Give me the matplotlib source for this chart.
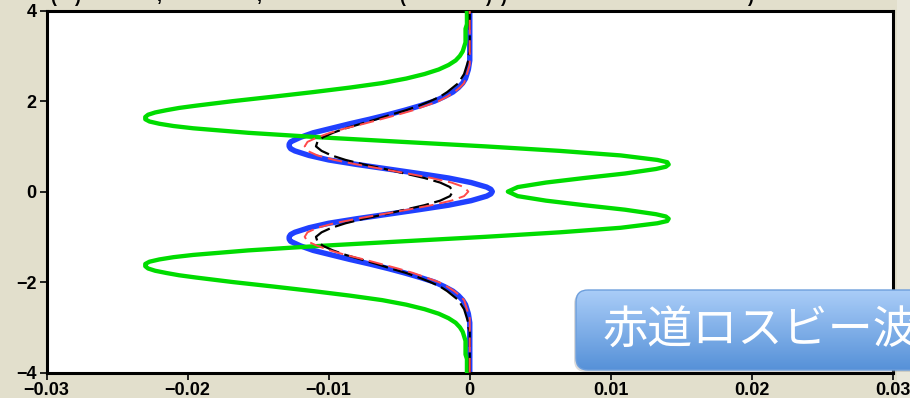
import numpy as np
import matplotlib
matplotlib.use("Agg")
import matplotlib.pyplot as plt
from matplotlib.patches import FancyBboxPatch, Rectangle

plt.rcParams['font.family'] = ['Liberation Sans', 'DejaVu Sans']

# meridional coordinate (nondimensional), samples every 0.1
y = np.linspace(-4, 4, 81)

# curves, y = -4.0 ... 4.0
green = [-0.0002, -0.0002, -0.0002, -0.0002, -0.0003, -0.0003, -0.0003, -0.0003, -0.0004, -0.0005,
         -0.0007, -0.0010, -0.0015, -0.0022, -0.0032, -0.0045, -0.0062, -0.0085, -0.0111, -0.0139,
         -0.0168, -0.0194, -0.0215, -0.0228, -0.0230, -0.0220, -0.0196, -0.0157, -0.0106, -0.0048,
         0.0011, 0.0064, 0.0107, 0.0133, 0.0141, 0.0132, 0.0110, 0.0081, 0.0054, 0.0034,
         0.0027,
         0.0034, 0.0054, 0.0081, 0.0110, 0.0132, 0.0141, 0.0133, 0.0107, 0.0064, 0.0011,
         -0.0048, -0.0106, -0.0157, -0.0196, -0.0220, -0.0230, -0.0228, -0.0215, -0.0194, -0.0168,
         -0.0139, -0.0111, -0.0085, -0.0062, -0.0045, -0.0032, -0.0022, -0.0015, -0.0010, -0.0007,
         -0.0005, -0.0004, -0.0003, -0.0003, -0.0003, -0.0003, -0.0002, -0.0002, -0.0002, -0.0002]
# extra readings near the sharp turns of the green curve
green_extra_y = [-1.85, -1.75, -1.65, -1.55, -1.45, -0.65, -0.55,
                 0.55, 0.65, 1.45, 1.55, 1.65, 1.75, 1.85]
green_extra_x = [-0.0206, -0.0223, -0.0230, -0.0227, -0.0210, 0.0140, 0.0139,
                 0.0139, 0.0140, -0.0210, -0.0227, -0.0230, -0.0223, -0.0206]

blue = [0.0, 0.0, 0.0, 0.0, 0.0, 0.0, 0.0, 0.0, 0.0, 0.0,
        0.0, 0.0, -0.00005, -0.0001, -0.0002, -0.0003, -0.0005, -0.0008, -0.0012, -0.0018,
        -0.0025, -0.0035, -0.0046, -0.0058, -0.0071, -0.0085, -0.0098, -0.0111, -0.0120, -0.0127,
        -0.0128, -0.0124, -0.0114, -0.0100, -0.0080, -0.0058, -0.0036, -0.0015, 0.0001, 0.0012,
        0.0016,
        0.0012, 0.0001, -0.0015, -0.0036, -0.0058, -0.0080, -0.0100, -0.0114, -0.0124, -0.0128,
        -0.0127, -0.0120, -0.0111, -0.0098, -0.0085, -0.0071, -0.0058, -0.0046, -0.0035, -0.0025,
        -0.0018, -0.0012, -0.0008, -0.0005, -0.0003, -0.0002, -0.0001, -0.00005, 0.0, 0.0,
        0.0, 0.0, 0.0, 0.0, 0.0, 0.0, 0.0, 0.0, 0.0, 0.0]
blue_extra_y = [-1.05, -0.95, -0.05, 0.05, 0.95, 1.05]
blue_extra_x = [-0.0128, -0.0127, 0.0015, 0.0015, -0.0127, -0.0128]

red = [0.0, 0.0, 0.0, 0.0, 0.0, 0.0, 0.0, 0.0, 0.0, 0.0,
       0.0, 0.0, 0.0, -0.0001, -0.0002, -0.0003, -0.0004, -0.0007, -0.0011, -0.0016,
       -0.0022, -0.0031, -0.0040, -0.0051, -0.0063, -0.0075, -0.0088, -0.0099, -0.0108, -0.0115,
       -0.0117, -0.0115, -0.0108, -0.0096, -0.0080, -0.0062, -0.0044, -0.0027, -0.0013, -0.0004,
       -0.0001,
       -0.0004, -0.0013, -0.0027, -0.0044, -0.0062, -0.0080, -0.0096, -0.0108, -0.0115, -0.0117,
       -0.0115, -0.0108, -0.0099, -0.0088, -0.0075, -0.0063, -0.0051, -0.0040, -0.0031, -0.0022,
       -0.0016, -0.0011, -0.0007, -0.0004, -0.0003, -0.0002, -0.0001, 0.0, 0.0, 0.0,
       0.0, 0.0, 0.0, 0.0, 0.0, 0.0, 0.0, 0.0, 0.0, 0.0]

black = [0.0, 0.0, 0.0, 0.0, 0.0, 0.0, 0.0, 0.0, 0.0, 0.0,
         -0.0001, -0.0001, -0.0002, -0.0003, -0.0004, -0.0006, -0.0008, -0.0012, -0.0016, -0.0021,
         -0.0028, -0.0036, -0.0045, -0.0056, -0.0066, -0.0077, -0.0088, -0.0097, -0.0104, -0.0108,
         -0.0109, -0.0105, -0.0098, -0.0088, -0.0075, -0.0060, -0.0046, -0.0032, -0.0021, -0.0014,
         -0.0012,
         -0.0014, -0.0021, -0.0032, -0.0046, -0.0060, -0.0075, -0.0088, -0.0098, -0.0105, -0.0109,
         -0.0108, -0.0104, -0.0097, -0.0088, -0.0077, -0.0066, -0.0056, -0.0045, -0.0036, -0.0028,
         -0.0021, -0.0016, -0.0012, -0.0008, -0.0006, -0.0004, -0.0003, -0.0002, -0.0001, -0.0001,
         0.0, 0.0, 0.0, 0.0, 0.0, 0.0, 0.0, 0.0, 0.0, 0.0]

xticks = [-0.03, -0.02, -0.01, 0, 0.01, 0.02, 0.03]
xlabels = ['\u22120.03', '\u22120.02', '\u22120.01', '0', '0.01', '0.02', '0.03']
yticks = [-4, -2, 0, 2, 4]
ylabels = ['\u22124', '\u22122', '0', '2', '4']


def merged(vals, extra_y, extra_x):
    yy = np.concatenate([y, extra_y])
    xx = np.concatenate([vals, extra_x])
    order = np.argsort(yy)
    return xx[order], yy[order]


bg = '#e2dfcc'
W, H = 910, 398
fig = plt.figure(figsize=(W / 100, H / 100), dpi=100, facecolor=bg)
fig.add_artist(Rectangle((897 / W, 0), 13 / W, 1, transform=fig.transFigure,
                         color='#e9e7da', lw=0, zorder=-5))

ax = fig.add_axes([46.5 / W, 25.5 / H, (893 - 46.5) / W, (372.5 - 10.7) / H])
bx, by = merged(blue, blue_extra_y, blue_extra_x)
gx, gy = merged(green, green_extra_y, green_extra_x)
ax.plot(bx, by, color='#2040ff', lw=3.9, zorder=2, solid_joinstyle='round')
ax.plot(gx, gy, color='#00dc00', lw=3.1, zorder=3, solid_joinstyle='round')
ax.plot(black, y, color='black', lw=1.6, dashes=(9, 2.5), zorder=4)
ax.plot(red, y, color='#ff4a4a', lw=1.4, dashes=(7.5, 3), zorder=5)

ax.set_xlim(-0.03, 0.03)
ax.set_ylim(-4, 4)
ax.set_xticks(xticks)
ax.set_xticklabels(xlabels)
ax.set_yticks(yticks)
ax.set_yticklabels(ylabels)
for s in ax.spines.values():
    s.set_linewidth(2.2)
ax.tick_params(direction='out', length=5, width=1.2, pad=2, labelsize=13)
for lab in ax.get_xticklabels() + ax.get_yticklabels():
    lab.set_fontweight('bold')

# title above the frame, only its descenders show in the crop
for px, ch in [(53, '('), (77, ')'), (159, ','), (259, ','),
               (402, '('), (488, ')'), (503, ')'), (750, ')')]:
    fig.text(px / W, 1 - 1.5 / H, ch, ha='center', va='baseline',
             fontsize=13, fontweight='bold', color='black')

# overlay in pixel coordinates for the label box
ov = fig.add_axes([0, 0, 1, 1], zorder=10)
ov.set_xlim(0, W)
ov.set_ylim(H, 0)
ov.axis('off')
ov.patch.set_alpha(0)

shadow = FancyBboxPatch((574, 292), 360, 80, boxstyle="round,pad=0,rounding_size=12",
                        facecolor='#9a9a9a', edgecolor='none', alpha=0.35, zorder=1)
ov.add_patch(shadow)
box = FancyBboxPatch((576, 290), 360, 80, boxstyle="round,pad=0,rounding_size=12",
                     facecolor='none', edgecolor='#6e9fdc', lw=1.0, zorder=3)
ov.add_patch(box)
grad = np.linspace(0, 1, 100).reshape(-1, 1)
top = np.array([170, 205, 248]) / 255
bot = np.array([86, 145, 216]) / 255
img = top + (bot - top) * grad[:, :, None]
im = ov.imshow(img, extent=(576, 936, 370, 290), aspect='auto', zorder=2)
im.set_clip_path(box)
ov.set_xlim(0, W)
ov.set_ylim(H, 0)

ov.text(603, 331, '赤道ロスビー波', color='white', fontsize=32.5, ha='left', va='center',
        family=['Noto Sans CJK JP', 'DejaVu Sans'], zorder=4)

fig.savefig('out.png', dpi=100, facecolor=bg)
